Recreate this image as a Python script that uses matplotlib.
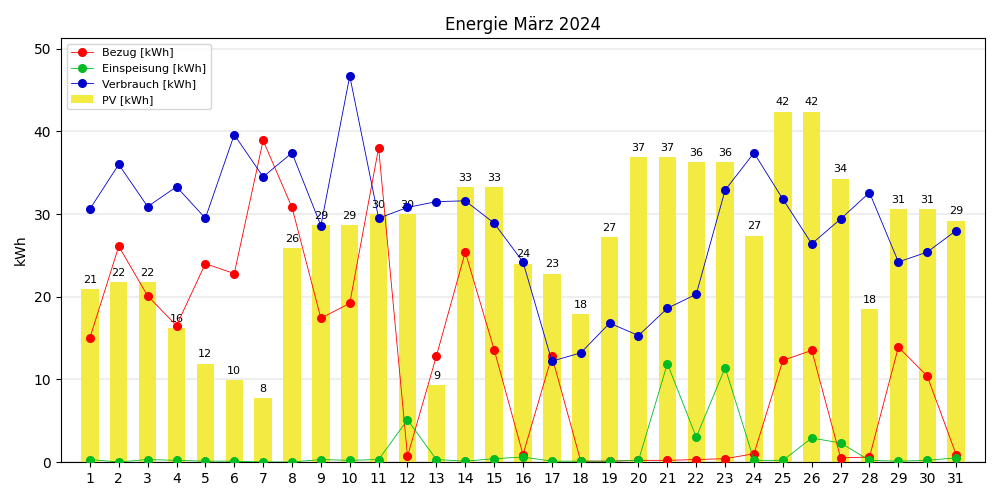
import matplotlib
matplotlib.use('Agg')
import matplotlib.pyplot as plt

tage = list(range(1, 32))

pv = [20.9, 21.8, 21.8, 16.2, 11.9, 9.9, 7.7, 25.9, 28.7, 28.7, 30.0, 30.0, 9.3, 33.3, 33.3,
      24.0, 22.8, 17.9, 27.2, 36.9, 36.9, 36.3, 36.3, 27.4, 42.4, 42.4, 34.3, 18.5, 30.6, 30.6, 29.2]

bezug = [15.0, 26.1, 20.1, 16.5, 24.0, 22.8, 38.9, 30.8, 17.4, 19.2, 38.0, 0.7, 12.8, 25.4, 13.6,
         0.9, 12.8, 0.1, 0.1, 0.2, 0.2, 0.3, 0.4, 1.0, 12.3, 13.5, 0.5, 0.6, 13.9, 10.4, 0.9]

einspeisung = [0.3, 0.0, 0.3, 0.2, 0.1, 0.1, 0.0, 0.0, 0.3, 0.2, 0.3, 5.1, 0.3, 0.1, 0.4,
               0.6, 0.1, 0.1, 0.1, 0.2, 11.9, 3.0, 11.4, 0.2, 0.2, 2.9, 2.3, 0.2, 0.1, 0.2, 0.5]

verbrauch = [30.6, 36.0, 30.9, 33.3, 29.5, 39.6, 34.5, 37.4, 28.6, 46.7, 29.5, 30.8, 31.5, 31.6, 28.9,
             24.2, 12.2, 13.2, 16.8, 15.3, 18.6, 20.3, 32.9, 37.4, 31.8, 26.4, 29.4, 32.6, 24.2, 25.4, 28.0]

fig, ax = plt.subplots(figsize=(10, 5), dpi=100)

ax.yaxis.grid(True, color='#eeeeee', linewidth=1.5)
ax.set_axisbelow(True)

bars = ax.bar(tage, pv, width=0.6, color='#f3ea42', label='PV [kWh]', zorder=1)
ax.bar_label(bars, fmt='%.0f', padding=3, fontsize=8)

ax.plot(tage, bezug, color='#ff0000', marker='o', markersize=5.5, linewidth=0.6, label='Bezug [kWh]', zorder=3)
ax.plot(tage, einspeisung, color='#00bb22', marker='o', markersize=5.5, linewidth=0.6, label='Einspeisung [kWh]', zorder=3)
ax.plot(tage, verbrauch, color='#0000cc', marker='o', markersize=5.5, linewidth=0.6, label='Verbrauch [kWh]', zorder=3)

ax.set_xticks(tage)
ax.set_xlim(0, 32)
ax.set_ylim(0, 51.3)
ax.set_ylabel('kWh')
ax.set_title('Energie März 2024')
ax.legend(loc='upper left', fontsize=8)

plt.subplots_adjust(left=0.061, right=0.985, top=0.924, bottom=0.076)
plt.savefig('out.png')
